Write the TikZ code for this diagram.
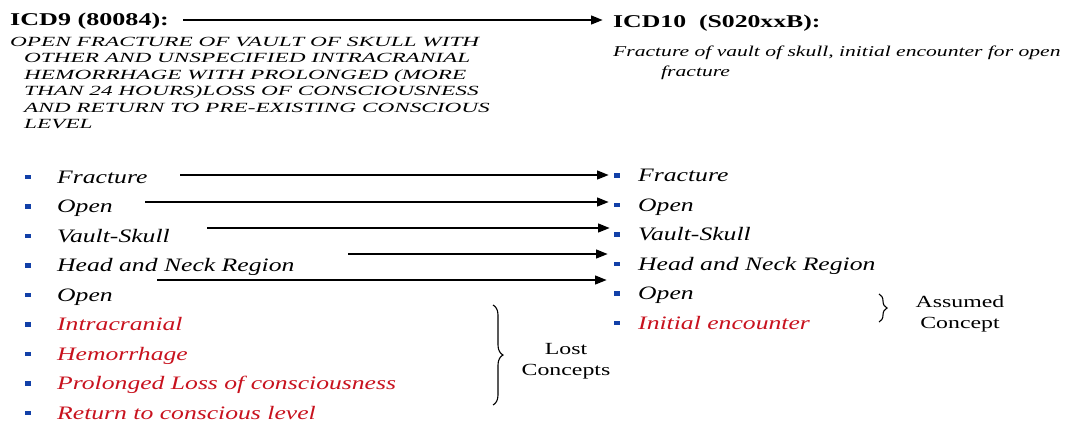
\documentclass[tikz,border=0pt]{standalone}
\usepackage{fontspec}
\setmainfont{Liberation Serif}
\usepackage{graphicx}
\usetikzlibrary{arrows.meta,decorations.pathreplacing}

\definecolor{lostred}{RGB}{200,18,30}
\definecolor{bulletblue}{RGB}{18,64,168}

% horizontally widened text
\newcommand{\wide}[2][1.4]{\scalebox{#1}[1]{#2}}

\tikzset{
  code/.style={anchor=base west, inner sep=0pt, font=\fontsize{18}{20}\selectfont\bfseries},
  desc/.style={anchor=base west, inner sep=0pt, font=\fontsize{14}{15}\selectfont\itshape},
  item/.style={anchor=base west, inner sep=0pt, font=\fontsize{19}{20}\selectfont\itshape},
  lost/.style={item, text=lostred},
  dot/.style={fill=bulletblue, minimum width=6pt, minimum height=4.5pt, inner sep=0pt},
  link/.style={line width=2.6pt, -{Stealth[length=12pt,width=8.5pt,inset=0pt]}},
  note/.style={align=center, inner sep=0pt, font=\fontsize{17}{21}\selectfont},
  curly/.style={decorate, decoration={brace, amplitude=#1}, line width=1.1pt},
}

\begin{document}
\begin{tikzpicture}[x=1pt, y=-1pt]
\useasboundingbox (0,0) rectangle (1070,421);

% headings
\node[code] (icd9) at (10,25) {\wide[1.45]{ICD9 (80084):}};
\node[code] (icd10) at (613,27) {\wide[1.43]{ICD10\ \ (S020xxB):}};

% ICD-9 long title
\node[desc] (d1) at (10,46)    {\wide[1.66]{OPEN FRACTURE OF VAULT OF SKULL WITH}};
\node[desc] (d2) at (24,62.5)  {\wide[1.66]{OTHER AND UNSPECIFIED INTRACRANIAL}};
\node[desc] (d3) at (24,79)    {\wide[1.66]{HEMORRHAGE WITH PROLONGED (MORE}};
\node[desc] (d4) at (24,95.5)  {\wide[1.66]{THAN 24 HOURS)LOSS OF CONSCIOUSNESS}};
\node[desc] (d5) at (24,112)   {\wide[1.66]{AND RETURN TO PRE-EXISTING CONSCIOUS}};
\node[desc] (d6) at (24,128.5) {\wide[1.66]{LEVEL}};

% ICD-10 long title
\node[desc, font=\fontsize{15}{15}\selectfont\itshape] (t1) at (613,56)
  {\wide[1.44]{Fracture of vault of skull, initial encounter for open}};
\node[desc, font=\fontsize{15}{15}\selectfont\itshape] (t2) at (661,76)
  {\wide[1.44]{fracture}};

% ICD-9 concepts
\foreach \i/\txt/\st in {0/Fracture/item, 1/Open/item, 2/Vault-Skull/item,
    3/Head and Neck Region/item, 4/Open/item, 5/Intracranial/lost,
    6/Hemorrhage/lost, 7/Prolonged Loss of consciousness/lost,
    8/Return to conscious level/lost}{
  \node[dot] (lb\i) at (28,{177+29.5*\i}) {};
  \node[\st] (l\i) at (57,{183+29.5*\i}) {\wide[1.35]{\txt}};
}

% ICD-10 concepts
\foreach \i/\txt/\st in {0/Fracture/item, 1/Open/item, 2/Vault-Skull/item,
    3/Head and Neck Region/item, 4/Open/item, 5/Initial encounter/lost}{
  \node[dot] (rb\i) at (617,{175.5+29.5*\i}) {};
  \node[\st] (r\i) at (638,{181.5+29.5*\i}) {\wide[1.35]{\txt}};
}

% mapping arrows
\coordinate (hs) at (183,20);  \coordinate (he) at (603,20);
\draw[link] (hs) -- (he);
\coordinate (s0) at (180,175); \coordinate (e0) at (609,175);
\coordinate (s1) at (145,202); \coordinate (e1) at (609,202);
\coordinate (s2) at (207,228); \coordinate (e2) at (610,228);
\coordinate (s3) at (348,254); \coordinate (e3) at (608,254);
\coordinate (s4) at (157,280); \coordinate (e4) at (607,280);
\foreach \i in {0,...,4}{ \draw[link] (s\i) -- (e\i); }

% lost concepts
\coordinate (lt) at (493,305); \coordinate (lb) at (493,405);
\draw[curly=10pt] (lt) -- (lb);
\node[note, anchor=base] (lostlbl) at (566,375) {\wide{Lost}\\\wide{Concepts}};

% assumed concept
\coordinate (at) at (879,294); \coordinate (ab) at (879,322);
\draw[curly=8pt] (at) -- (ab);
\node[note, anchor=base] (asslbl) at (960,328) {\wide{Assumed}\\\wide{Concept}};
\end{tikzpicture}
\end{document}
